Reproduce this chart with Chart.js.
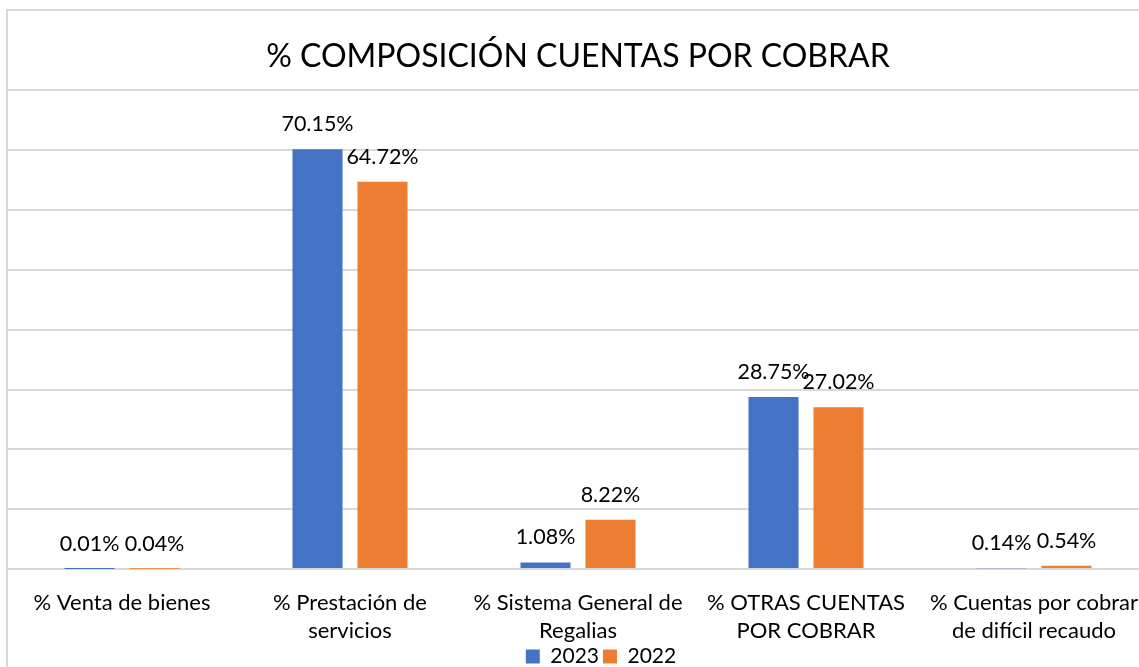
<!DOCTYPE html>
<html>
<head>
<meta charset="utf-8">
<script src="https://cdn.jsdelivr.net/npm/chart.js@4.4.0/dist/chart.umd.min.js"></script>
<style>
  html, body { margin: 0; padding: 0; background: #fff; overflow: hidden; }
  .frame {
    position: absolute; left: 6px; top: 9px;
    width: 1186px; height: 675px;
    border-left: 2px solid #d9d9d9; border-top: 2px solid #d9d9d9;
  }
</style>
</head>
<body>
<div class="frame"><canvas id="myChart"></canvas></div>
<script>
const categories = [
    ['% Venta de bienes'],
    ['% Prestación de', 'servicios'],
    ['% Sistema General de', 'Regalias'],
    ['% OTRAS CUENTAS', 'POR COBRAR'],
    ['% Cuentas por cobrar', 'de difícil recaudo']
];
const values2023 = [0.01, 70.15, 1.08, 28.75, 0.14];
const values2022 = [0.04, 64.72, 8.22, 27.02, 0.54];
const seriesNames = ['2023', '2022'];

const fontName = 'Lato';

// labels over each bar
const barLabels = {
    id: 'barLabels',
    afterDatasetsDraw(chart) {
        const ctx = chart.ctx;
        ctx.save();
        ctx.font = '21.5px ' + fontName;
        ctx.fillStyle = '#000';
        ctx.textAlign = 'center';
        ctx.textBaseline = 'middle';
        chart.data.datasets.forEach(function (ds, i) {
            chart.getDatasetMeta(i).data.forEach(function (bar, j) {
                ctx.fillText(ds.data[j].toFixed(2) + '%', bar.x, bar.y - 25);
            });
        });
        ctx.restore();
    }
};

function drawChart() {
    const ctx = document.getElementById('myChart').getContext('2d');
    return new Chart(ctx, {
        type: 'bar',
        data: {
            labels: categories,
            datasets: [
                { label: seriesNames[0], data: values2023, backgroundColor: '#4472C4' },
                { label: seriesNames[1], data: values2022, backgroundColor: '#ED7D31' }
            ]
        },
        options: {
            responsive: false,
            animation: false,
            categoryPercentage: 0.57,
            barPercentage: 0.77,
            layout: { padding: 0 },
            plugins: {
                title: {
                    display: true,
                    fullSize: false,
                    text: '% COMPOSICIÓN CUENTAS POR COBRAR',
                    color: '#000',
                    font: { family: fontName, size: 32, weight: 'normal' },
                    padding: { top: 26, bottom: 15 }
                },
                legend: {
                    position: 'bottom',
                    labels: {
                        color: '#000',
                        boxWidth: 14, boxHeight: 14,
                        padding: 4,
                        font: { family: fontName, size: 21 }
                    }
                },
                tooltip: { enabled: false }
            },
            scales: {
                x: {
                    grid: { display: false, drawTicks: false },
                    border: { display: false },
                    ticks: {
                        color: '#000',
                        maxRotation: 0,
                        padding: 20,
                        font: { family: fontName, size: 22, lineHeight: 1.27 }
                    },
                    afterFit: function (scale) { scale.height = 73; }
                },
                y: {
                    position: 'right',
                    min: 0, max: 80,
                    ticks: { display: false, stepSize: 10 },
                    grid: { color: '#d9d9d9', lineWidth: 2, drawTicks: false },
                    border: { display: false },
                    afterFit: function (scale) { scale.width = 46; }
                }
            }
        },
        plugins: [barLabels]
    });
}

const canvas = document.getElementById('myChart');
canvas.width = 1186;
canvas.height = 666;
const accountsChart = drawChart();
</script>
</body>
</html>
